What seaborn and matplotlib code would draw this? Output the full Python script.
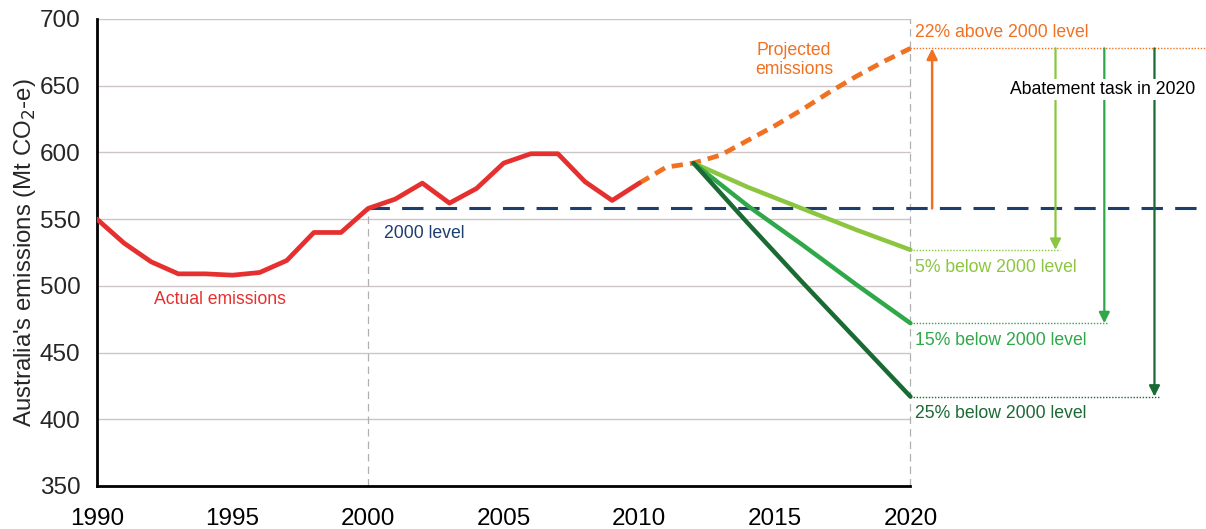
import numpy as np
import pandas as pd
import matplotlib
matplotlib.use("Agg")
import matplotlib.pyplot as plt
import seaborn as sns

# ---------------- data ----------------
actual_years = list(range(1990, 2011))
actual_values = [550, 532, 518, 509, 509, 508, 510, 519, 540, 540, 558,
                 565, 577, 562, 573, 592, 599, 599, 578, 564, 577]

proj_years = [2010, 2011, 2012, 2013, 2014, 2015, 2016, 2017, 2018, 2019, 2020]
proj_values = [577, 589, 592, 598, 609, 620, 632, 645, 657, 668, 678]

target_years = [2012, 2014, 2016, 2018, 2020]
target_5 = [592, 574, 558, 542, 527]
target_15 = [592, 560, 531, 501, 472]
target_25 = [592, 547, 503, 460, 417]

level_2000 = 558
level_proj_2020 = 678
target_labels = ["5% below 2000 level", "15% below 2000 level", "25% below 2000 level"]
target_ends = [target_5[-1], target_15[-1], target_25[-1]]

y_ticks = [350, 400, 450, 500, 550, 600, 650, 700]
x_ticks = [1990, 1995, 2000, 2005, 2010, 2015, 2020]

# ---------------- style ----------------
sns.set_theme(style="white")
plt.rcParams['font.family'] = ['Liberation Sans', 'DejaVu Sans']
narrow = ['Liberation Sans Narrow', 'Liberation Sans', 'DejaVu Sans']

RED = "#e5302f"
ORANGE = "#f07122"
NAVY = "#1d3f6e"
LG = "#8cc640"
MG = "#2fa84a"
DG = "#1a6a33"
GRID = "#cdc5c5"

fig = plt.figure(figsize=(12.06, 5.29), dpi=100)
ax = fig.add_axes([0.0804, 0.0813, 0.9196, 0.8828])
XMAX = 2030.9
ax.set_xlim(1990, XMAX)
ax.set_ylim(350, 700)

# grid lines (only across the plotted period)
for yv in y_ticks[1:]:
    ax.plot([1990, 2020], [yv, yv], color=GRID, lw=1.0, zorder=0)
ax.plot([2000, 2000], [350, level_2000], color="#b0b0b0", lw=0.9, ls=(0, (6, 4)), zorder=0)
ax.plot([2020, 2020], [350, 700], color="#b0b0b0", lw=0.9, ls=(0, (6, 4)), zorder=0)

# data frames
df_act = pd.DataFrame({"year": actual_years, "value": actual_values})
df_proj = pd.DataFrame({"year": proj_years, "value": proj_values})
df_t = pd.DataFrame({
    "year": target_years * 3,
    "value": target_5 + target_15 + target_25,
    "target": [target_labels[0]] * 5 + [target_labels[1]] * 5 + [target_labels[2]] * 5,
})

# 2000 level
ax.plot([2000, XMAX], [level_2000, level_2000], color=NAVY, lw=2.2,
        ls=(0, (7, 4)), zorder=2)

sns.lineplot(data=df_proj, x="year", y="value", ax=ax, color=ORANGE, lw=3.4,
             linestyle=(0, (2.4, 1.5)), zorder=3, legend=False)
sns.lineplot(data=df_act, x="year", y="value", ax=ax, color=RED, lw=3.4,
             zorder=4, legend=False)
sns.lineplot(data=df_t, x="year", y="value", hue="target", ax=ax,
             palette={target_labels[0]: LG, target_labels[1]: MG, target_labels[2]: DG},
             lw=3.2, zorder=4, legend=False)

# dotted reference lines from 2020
arrow_x = [2025.35, 2027.15, 2029.0]
ax.plot([2020, XMAX], [level_proj_2020] * 2, color=ORANGE, lw=1.0, ls=(0, (1, 1.2)), zorder=2)
for xv, yv, c in zip(arrow_x, target_ends, [LG, MG, DG]):
    ax.plot([2020, xv + 0.15], [yv, yv], color=c, lw=1.0, ls=(0, (1, 1.2)), zorder=2)
    ax.annotate("", xy=(xv, yv), xytext=(xv, level_proj_2020),
                arrowprops=dict(arrowstyle="-|>", color=c, lw=1.6,
                                mutation_scale=16, shrinkA=0, shrinkB=0), zorder=3)
ax.annotate("", xy=(2020.8, level_proj_2020), xytext=(2020.8, level_2000),
            arrowprops=dict(arrowstyle="-|>", color=ORANGE, lw=1.8,
                            mutation_scale=16, shrinkA=0, shrinkB=0), zorder=3)

# text labels
fs = 12.7
ax.text(1992.1, 490, "Actual emissions", color=RED, fontsize=fs, family=narrow,
        va="center", ha="left")
ax.text(2000.6, 539, "2000 level", color=NAVY, fontsize=fs, family=narrow,
        va="center", ha="left")
ax.text(2015.7, 669, "Projected\nemissions", color=ORANGE, fontsize=fs, family=narrow,
        va="center", ha="center", linespacing=1.15)
ax.text(2020.15, 690, "22% above 2000 level", color=ORANGE, fontsize=fs, family=narrow,
        va="center", ha="left")
for yv, lab, c in zip(target_ends, target_labels, [LG, MG, DG]):
    ax.text(2020.15, yv - 13, lab, color=c, fontsize=fs, family=narrow,
            va="center", ha="left")
ax.text(2027.1, 647, "Abatement task in 2020", color="black", fontsize=fs, family=narrow,
        va="center", ha="center", zorder=6,
        bbox=dict(facecolor="white", edgecolor="none", pad=1.5))

# axes styling
for s in ["top", "right"]:
    ax.spines[s].set_visible(False)
ax.spines["left"].set_color("black")
ax.spines["left"].set_linewidth(2.0)
ax.spines["bottom"].set_color("black")
ax.spines["bottom"].set_linewidth(2.0)
ax.spines["bottom"].set_bounds(1990, 2020)

ax.set_yticks(y_ticks)
ax.set_yticklabels([str(v) for v in y_ticks], fontsize=17.5)
ax.set_xticks(x_ticks)
ax.set_xticklabels([str(v) for v in x_ticks], fontsize=17.5)
ax.set_xticks(range(1990, 2021), minor=True)
ax.tick_params(axis="x", which="major", direction="out", length=8, width=1.6,
               colors="black", pad=8)
ax.tick_params(axis="x", which="minor", direction="out", length=6, width=1.0,
               colors="#8a8a8a")
ax.tick_params(axis="y", which="major", length=0, pad=12)
ax.set_xlabel("")
ax.set_ylabel("Australia's emissions (Mt CO$_2$-e)", fontsize=17.3, labelpad=1)

fig.savefig("out.png", dpi=100)
